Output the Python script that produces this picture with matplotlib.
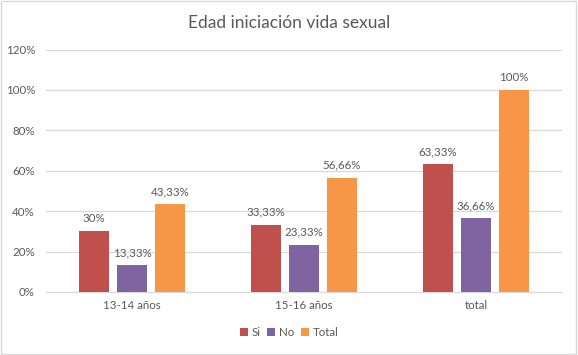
import numpy as np
import matplotlib.pyplot as plt
from matplotlib.patches import Rectangle

categorias = ['13-14 años', '15-16 años', 'total']
series = ['Si', 'No', 'Total']
si = [30, 33.33, 63.33]
no = [13.33, 23.33, 36.66]
total = [43.33, 56.66, 100]
etiquetas = [['30%', '33,33%', '63,33%'],
             ['13,33%', '23,33%', '36,66%'],
             ['43,33%', '56,66%', '100%']]
colores = ['#C0504D', '#8064A2', '#F79646']

plt.rcParams['font.family'] = ['Lato', 'DejaVu Sans']
gris = '#595959'

fig = plt.figure(figsize=(5.78, 3.55), dpi=100)
ax = fig.add_axes([0.0796, 0.1775, 0.8927, 0.6828])

x = np.arange(len(categorias))
ancho = 0.174
paso = 0.221
for i, (vals, col) in enumerate(zip([si, no, total], colores)):
    pos = x + (i - 1) * paso
    ax.bar(pos, vals, ancho, color=col, label=series[i], zorder=3)
    for p, v, t in zip(pos, vals, etiquetas[i]):
        ax.annotate(t, (p, v), xytext=(0, 5), textcoords='offset points',
                    ha='center', va='bottom', fontsize=8.3, color=gris)

ax.set_xlim(-0.5, 2.5)
ax.set_ylim(0, 120)
ax.set_yticks(range(0, 121, 20))
ax.set_yticklabels([f'{v}%' for v in range(0, 121, 20)])
ax.set_xticks(x)
ax.set_xticklabels(categorias)
ax.yaxis.grid(True, color='#D9D9D9', linewidth=0.9, zorder=0)
ax.tick_params(axis='both', length=0, labelsize=8.3, labelcolor=gris)
ax.tick_params(axis='y', pad=8)
ax.tick_params(axis='x', pad=6)
for s in ['top', 'right', 'left']:
    ax.spines[s].set_visible(False)
ax.spines['bottom'].set_color('#D9D9D9')

fig.suptitle('Edad iniciación vida sexual', x=0.5, y=0.935, fontsize=12.5,
             color=gris, va='center')

leg = fig.legend(loc='center', bbox_to_anchor=(0.5, 0.062), ncol=3, frameon=False,
                 fontsize=8.3, handlelength=0.7, handleheight=0.7,
                 handletextpad=0.3, columnspacing=0.6)
for t in leg.get_texts():
    t.set_color(gris)

fig.patches.append(Rectangle((0.002, 0.003), 0.995, 0.994, transform=fig.transFigure,
                             fill=False, edgecolor='#D9D9D9', linewidth=1))

fig.savefig('out.png', dpi=100)
